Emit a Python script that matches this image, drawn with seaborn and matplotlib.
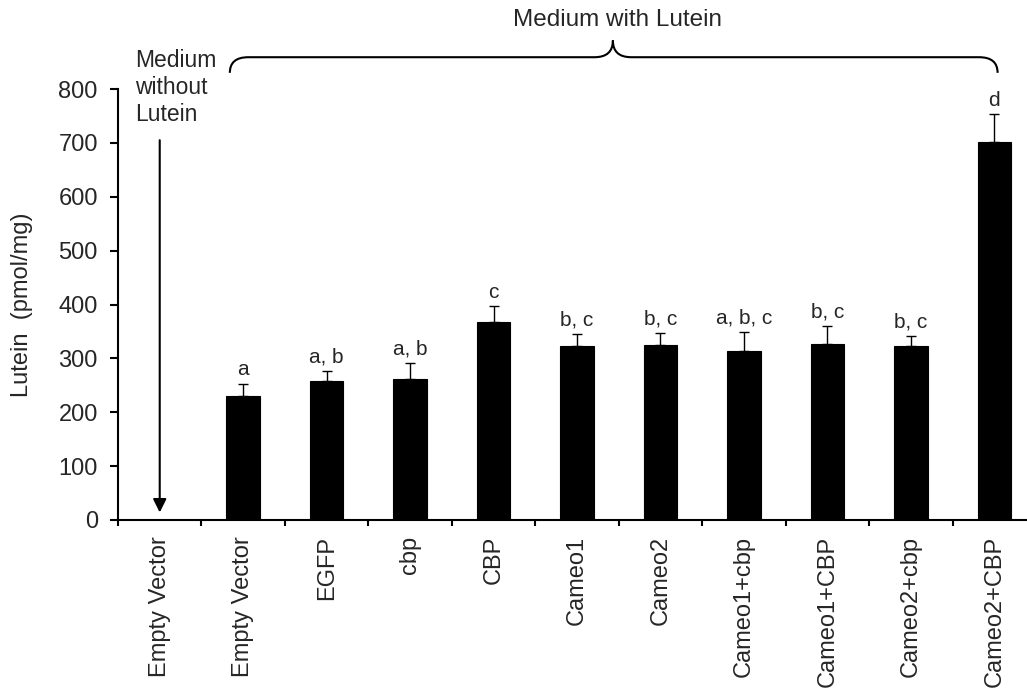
import numpy as np
import pandas as pd
import matplotlib
matplotlib.use("Agg")
import matplotlib.pyplot as plt
from matplotlib.path import Path
from matplotlib.patches import PathPatch
import seaborn as sns

# ---- data ----
labels = ["Empty Vector", "Empty Vector", "EGFP", "cbp", "CBP", "Cameo1", "Cameo2",
          "Cameo1+cbp", "Cameo1+CBP", "Cameo2+cbp", "Cameo2+CBP"]
lutein = [0, 231, 258, 262, 368, 323, 324, 314, 327, 323, 701]
sem = [0, 22, 19, 30, 29, 23, 23, 35, 33, 18, 52]
letters = ["", "a", "a, b", "a, b", "c", "b, c", "b, c", "a, b, c", "b, c", "b, c", "d"]
y_ticks = [0, 100, 200, 300, 400, 500, 600, 700, 800]

sns.set_style("white")
plt.rcParams["font.family"] = ["Liberation Sans", "DejaVu Sans"]

fig = plt.figure(figsize=(10.27, 6.94), dpi=100)
ax = fig.add_axes([118 / 1027, 174 / 694, 918 / 1027, 431 / 694])

pos = np.arange(len(labels))
df = pd.DataFrame({"pos": pos, "lutein": lutein})
sns.barplot(data=df, x="pos", y="lutein", color="black", width=0.4,
            edgecolor="black", linewidth=0.8, saturation=1, ax=ax)

# upper-only error bars
idx = [i for i in pos if sem[i] > 0]
ax.errorbar([pos[i] for i in idx], [lutein[i] for i in idx],
            yerr=[[0] * len(idx), [sem[i] for i in idx]],
            fmt="none", ecolor="black", elinewidth=1.0, capsize=3.3, capthick=1.0,
            zorder=3)

# significance letters
for i in pos:
    if letters[i]:
        ax.annotate(letters[i], (pos[i], lutein[i] + sem[i]), xytext=(0, 6),
                    textcoords="offset points", ha="center", va="baseline",
                    fontsize=15, annotation_clip=False)

ax.set_xlim(-0.5, len(labels) - 0.5)
ax.set_ylim(0, 800)
ax.set_yticks(y_ticks)
ax.set_xticks(pos)
ax.set_xticklabels(labels, rotation=90, fontsize=17)
ax.set_xticks(np.arange(-0.5, len(labels), 1.0), minor=True)
ax.tick_params(axis="x", which="major", length=0, pad=11.5)
ax.tick_params(axis="x", which="minor", length=4.5, width=1.5, direction="out",
               bottom=True, color="black")
ax.tick_params(axis="y", which="major", length=5.5, width=1.5, direction="out",
               left=True, pad=9, labelsize=17, color="black")
ax.set_xlabel("")
ax.set_ylabel("Lutein  (pmol/mg)", fontsize=17)
ax.yaxis.set_label_coords(-85 / 918, 0.5)

for s in ["top", "right"]:
    ax.spines[s].set_visible(False)
for s in ["left", "bottom"]:
    ax.spines[s].set_linewidth(1.5)
    ax.spines[s].set_color("black")

# "Medium without Lutein" note with arrow
ax.text(-0.29, 875, "Medium\nwithout\nLutein", ha="left", va="top", fontsize=16.5,
        linespacing=1.22, clip_on=False)
ax.annotate("", xy=(0, 14), xytext=(0, 705),
            arrowprops=dict(arrowstyle="-|>", color="black", lw=1.5,
                            mutation_scale=20, shrinkA=0, shrinkB=0),
            annotation_clip=False)

# curly brace over "Medium with Lutein"
xl, xr, xc = 0.84, 10.04, 5.43
y_end, y_mid, y_tip = 830, 859, 890
dx = 0.22
verts = [(xl, y_end), (xl, y_mid), (xl + dx, y_mid),
         (xc - dx, y_mid), (xc, y_mid), (xc, y_tip),
         (xc, y_mid), (xc + dx, y_mid),
         (xr - dx, y_mid), (xr, y_mid), (xr, y_end)]
codes = [Path.MOVETO, Path.CURVE3, Path.CURVE3,
         Path.LINETO, Path.CURVE3, Path.CURVE3,
         Path.CURVE3, Path.CURVE3,
         Path.LINETO, Path.CURVE3, Path.CURVE3]
ax.add_patch(PathPatch(Path(verts, codes), fill=False, edgecolor="black",
                       lw=1.5, clip_on=False))
ax.text(5.48, 928, "Medium with Lutein", ha="center", va="center", fontsize=17.5,
        clip_on=False)

fig.savefig("out.png", dpi=100)
